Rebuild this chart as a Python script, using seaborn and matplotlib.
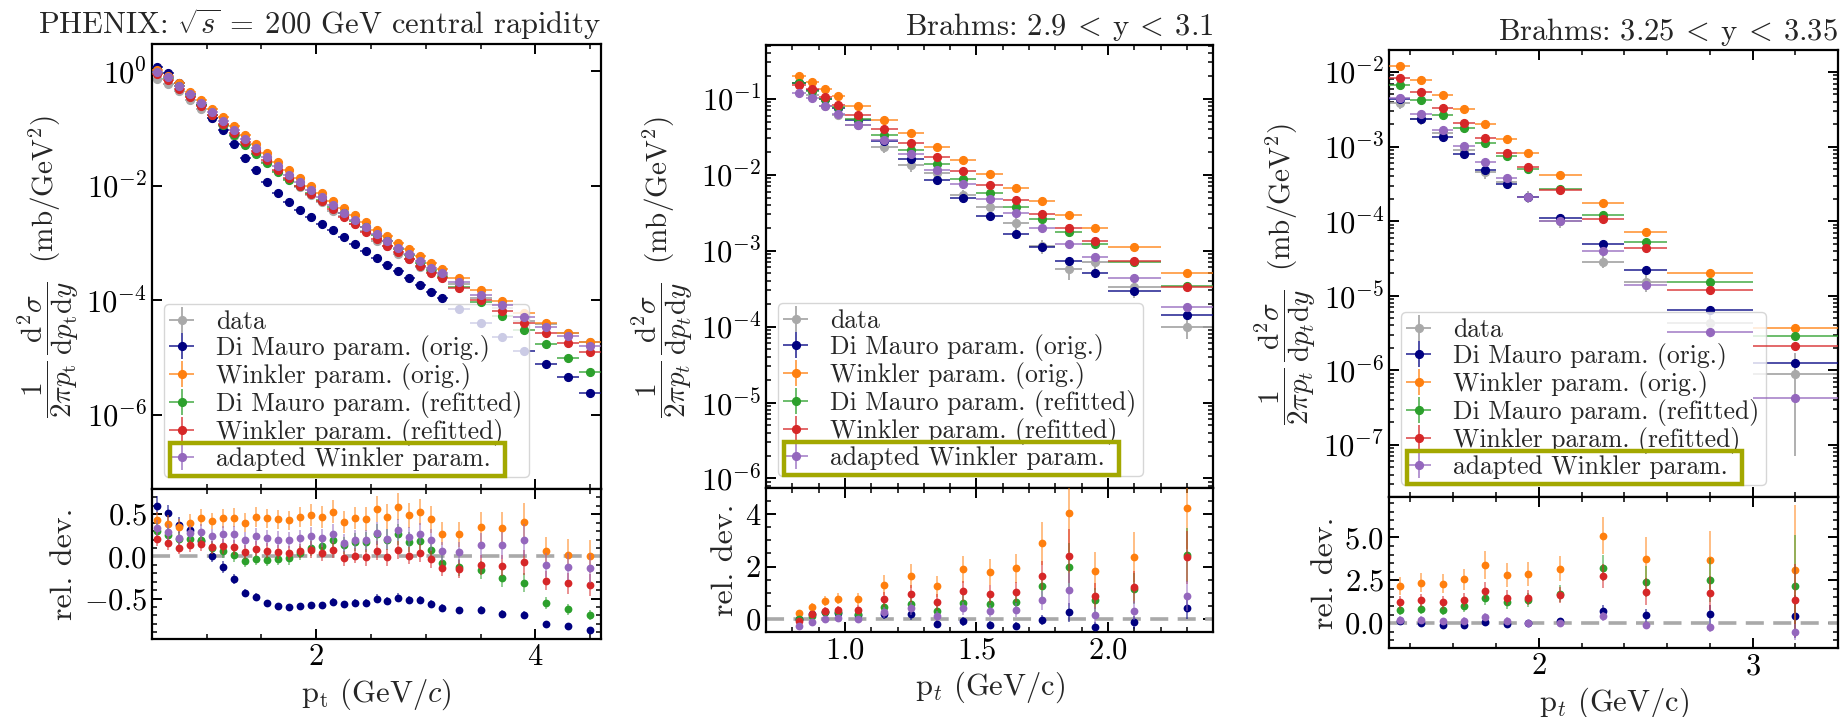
import numpy as np
import matplotlib
matplotlib.use("Agg")
import matplotlib.pyplot as plt
import seaborn as sns
from matplotlib.ticker import MultipleLocator, LogLocator, NullLocator, NullFormatter
from matplotlib.patches import Rectangle

# ------------------------------------------------------------------ data
series_labels = ["data", "Di Mauro param. (orig.)", "Winkler param. (orig.)",
                 "Di Mauro param. (refitted)", "Winkler param. (refitted)",
                 "adapted Winkler param."]

# PHENIX, sqrt(s)=200 GeV, central rapidity
phx_pt = [0.55, 0.65, 0.75, 0.85, 0.95, 1.05, 1.15, 1.25, 1.35, 1.45, 1.55, 1.65,
          1.75, 1.85, 1.95, 2.05, 2.15, 2.25, 2.35, 2.45, 2.55, 2.65, 2.75, 2.85,
          2.95, 3.05, 3.15, 3.3, 3.5, 3.7, 3.9, 4.1, 4.3, 4.5]
phx_halfwidth = [0.05] * 27 + [0.1] * 7
phx_data = [0.730, 0.608, 0.455, 0.312, 0.217, 0.156, 0.109, 0.0753, 0.0547, 0.0368,
            0.0260, 0.0182, 0.0131, 0.00940, 0.00681, 0.00514, 0.00362, 0.00293,
            0.00212, 0.00161, 0.00111, 0.000902, 0.000638, 0.000521, 0.000387,
            0.000315, 0.000281, 0.000197, 0.000112, 7.26e-5, 4.33e-5, 3.85e-5,
            2.67e-5, 1.87e-5]
phx_relerr = [0.07, 0.07, 0.07, 0.07, 0.07, 0.07, 0.08, 0.08, 0.08, 0.08, 0.08, 0.08,
              0.08, 0.08, 0.09, 0.09, 0.09, 0.09, 0.09, 0.10, 0.10, 0.10, 0.10, 0.10,
              0.10, 0.11, 0.11, 0.12, 0.13, 0.14, 0.16, 0.16, 0.18, 0.20]
phx_dm_orig = [0.60, 0.51, 0.37, 0.31, 0.18, 0.0, -0.13, -0.27, -0.43, -0.48, -0.55,
               -0.59, -0.60, -0.59, -0.58, -0.58, -0.54, -0.57, -0.55, -0.55, -0.50,
               -0.53, -0.49, -0.52, -0.52, -0.56, -0.61, -0.64, -0.64, -0.68, -0.70,
               -0.80, -0.83, -0.87]
phx_w_orig = [0.43, 0.39, 0.35, 0.40, 0.46, 0.42, 0.45, 0.46, 0.40, 0.47, 0.45, 0.44,
              0.43, 0.47, 0.49, 0.47, 0.53, 0.41, 0.45, 0.44, 0.56, 0.47, 0.59, 0.49,
              0.53, 0.44, 0.27, 0.26, 0.35, 0.34, 0.41, 0.06, 0.02, 0.0]
phx_dm_ref = [0.30, 0.25, 0.21, 0.21, 0.20, 0.10, 0.07, 0.02, -0.05, -0.03, -0.04,
              -0.03, -0.02, 0.04, 0.10, 0.12, 0.19, 0.13, 0.17, 0.17, 0.26, 0.20, 0.26,
              0.17, 0.18, 0.08, -0.08, -0.13, -0.16, -0.26, -0.31, -0.55, -0.63, -0.70]
phx_w_ref = [0.21, 0.16, 0.10, 0.13, 0.15, 0.11, 0.12, 0.11, 0.05, 0.09, 0.07, 0.05,
             0.04, 0.06, 0.08, 0.04, 0.08, -0.02, 0.01, -0.01, 0.07, -0.01, 0.08, 0.01,
             0.04, -0.03, -0.14, -0.15, -0.10, -0.11, -0.07, -0.29, -0.32, -0.34]
phx_aw = [0.34, 0.29, 0.22, 0.28, 0.29, 0.24, 0.26, 0.26, 0.19, 0.24, 0.22, 0.20,
          0.19, 0.22, 0.24, 0.22, 0.27, 0.16, 0.20, 0.19, 0.28, 0.21, 0.31, 0.23,
          0.27, 0.19, 0.06, 0.05, 0.13, 0.13, 0.19, -0.10, -0.12, -0.14]

# BRAHMS 2.9 < y < 3.1
br1_pt = [0.825, 0.875, 0.925, 0.975, 1.05, 1.15, 1.25, 1.35, 1.45, 1.55, 1.65, 1.75,
          1.85, 1.95, 2.1, 2.3]
br1_halfwidth = [0.025] * 4 + [0.05] * 10 + [0.1] * 2
br1_data = [0.162, 0.112, 0.080, 0.061, 0.0454, 0.0231, 0.0134, 0.0104, 0.0054,
            0.0037, 0.0023, 0.00115, 0.00058, 0.00071, 0.00033, 9.8e-5]
br1_relerr = [0.08, 0.10, 0.12, 0.12, 0.13, 0.17, 0.18, 0.18, 0.18, 0.18, 0.19, 0.21,
              0.30, 0.26, 0.28, 0.30]
br1_dm_orig = [-0.02, 0.18, 0.25, 0.22, 0.15, 0.20, 0.19, -0.19, -0.09, -0.22, -0.27,
               -0.04, 0.25, -0.29, -0.12, 0.43]
br1_w_orig = [0.21, 0.47, 0.68, 0.78, 0.77, 1.30, 1.64, 1.24, 1.89, 1.78, 1.93, 2.89,
              4.06, 1.83, 2.36, 4.22]
br1_dm_ref = [0.0, 0.12, 0.25, 0.27, 0.18, 0.46, 0.58, 0.31, 0.62, 0.56, 0.65, 1.24,
              1.99, 0.72, 1.16, 2.45]
br1_w_ref = [-0.06, 0.19, 0.31, 0.35, 0.35, 0.75, 0.95, 0.65, 1.06, 0.96, 1.02, 1.65,
             2.40, 0.89, 1.22, 2.36]
br1_aw = [-0.27, -0.10, 0.0, 0.04, 0.0, 0.25, 0.40, 0.12, 0.41, 0.31, 0.34, 0.71,
          1.12, 0.15, 0.31, 0.87]

# BRAHMS 3.25 < y < 3.35
br2_pt = [1.35, 1.45, 1.55, 1.65, 1.75, 1.85, 1.95, 2.1, 2.3, 2.5, 2.8, 3.2]
br2_halfwidth = [0.05] * 7 + [0.1] * 3 + [0.2] * 2
br2_data = [3.79e-3, 2.33e-3, 1.50e-3, 8.9e-4, 4.54e-4, 3.33e-4, 2.12e-4, 1.0e-4,
            2.86e-5, 1.53e-5, 4.3e-6, 9.0e-7]
br2_relerr = [0.17, 0.17, 0.17, 0.17, 0.18, 0.18, 0.18, 0.18, 0.18, 0.27, 0.36, 0.92]
br2_dm_orig = [0.15, 0.0, -0.10, -0.10, 0.06, -0.06, 0.0, 0.10, 0.72, 0.45, 0.52, 0.39]
br2_w_orig = [2.17, 2.36, 2.29, 2.56, 3.39, 2.81, 2.85, 3.18, 5.10, 3.74, 3.68, 3.10]
br2_dm_ref = [0.78, 0.83, 0.78, 0.97, 1.49, 1.22, 1.36, 1.71, 3.20, 2.42, 2.52, 2.19]
br2_w_ref = [1.22, 1.32, 1.22, 1.36, 1.90, 1.49, 1.49, 1.65, 2.75, 1.84, 1.74, 1.32]
br2_aw = [0.19, 0.19, 0.10, 0.15, 0.35, 0.14, 0.0, 0.0, 0.39, -0.10, -0.25, -0.52]

titles = [r"PHENIX: $\sqrt{s}\:=\:200$ GeV central rapidity",
          r"Brahms: $2.9\:<\:\mathrm{y}\:<\:3.1$",
          r"Brahms: $3.25\:<\:\mathrm{y}\:<\:3.35$"]

# ------------------------------------------------------------------ style
sns.set_theme(style="ticks")
plt.rcParams.update({
    "font.family": ["cmr10"],
    "mathtext.fontset": "cm",
    "axes.formatter.use_mathtext": True,
    "axes.unicode_minus": True,
    "axes.linewidth": 1.6,
    "axes.edgecolor": "black",
    "xtick.direction": "in", "ytick.direction": "in",
    "xtick.top": True, "ytick.right": True,
    "xtick.major.size": 7, "ytick.major.size": 7,
    "xtick.minor.size": 3.5, "ytick.minor.size": 3.5,
    "xtick.major.width": 1.4, "ytick.major.width": 1.4,
    "xtick.minor.width": 1.1, "ytick.minor.width": 1.1,
    "xtick.labelsize": 22, "ytick.labelsize": 22,
    "xtick.color": "black", "ytick.color": "black",
})

pal = sns.color_palette("tab10")
data_color = "darkgray"
model_colors = ["navy", pal[1], pal[2], pal[3], pal[4]]
box_color = "#a3a800"

fig = plt.figure(figsize=(18.42, 7.17), dpi=100)

rects = [
    ([0.0825, 0.318, 0.2438, 0.6206], [0.0825, 0.1088, 0.2438, 0.2092]),
    ([0.4159, 0.3194, 0.2427, 0.6179], [0.4159, 0.1185, 0.2427, 0.2009]),
    ([0.7541, 0.3068, 0.2438, 0.6234], [0.7541, 0.0962, 0.2438, 0.2106]),
]

ylab_t = r"$\dfrac{1}{2\pi p_\mathrm{t}}\,\dfrac{\mathrm{d}^2\sigma}{\mathrm{d}p_\mathrm{t}\mathrm{d}y}\ \ (\mathrm{mb}/\mathrm{GeV}^2)$"
ylab_i = r"$\dfrac{1}{2\pi p_t}\,\dfrac{\mathrm{d}^2\sigma}{\mathrm{d}p_t\mathrm{d}y}\ \ (\mathrm{mb}/\mathrm{GeV}^2)$"

panels = [
    dict(pt=phx_pt, hw=phx_halfwidth, data=phx_data, relerr=phx_relerr,
         rels=[phx_dm_orig, phx_w_orig, phx_dm_ref, phx_w_ref, phx_aw],
         xlim=(0.5, 4.6), ylim=(5.1e-8, 3.0), rlim=(-0.98, 0.8),
         xmaj=2, xmin=0.5, rmaj=0.5, rmin=0.1,
         xlabel=r"p$_\mathrm{t}$ (GeV/$c$)", ylabel=ylab_t),
    dict(pt=br1_pt, hw=br1_halfwidth, data=br1_data, relerr=br1_relerr,
         rels=[br1_dm_orig, br1_w_orig, br1_dm_ref, br1_w_ref, br1_aw],
         xlim=(0.7, 2.4), ylim=(7.5e-7, 0.51), rlim=(-0.5, 5.0),
         xmaj=0.5, xmin=0.1, rmaj=2, rmin=0.5,
         xlabel=r"p$_t$ (GeV/c)", ylabel=ylab_i),
    dict(pt=br2_pt, hw=br2_halfwidth, data=br2_data, relerr=br2_relerr,
         rels=[br2_dm_orig, br2_w_orig, br2_dm_ref, br2_w_ref, br2_aw],
         xlim=(1.3, 3.4), ylim=(2.0e-8, 1.97e-2), rlim=(-1.45, 7.35),
         xmaj=1, xmin=0.2, rmaj=2.5, rmin=0.5,
         xlabel=r"p$_t$ (GeV/c)", ylabel=ylab_i),
]

MS = 5.6
legends = []
for k, (p, (rm, rr)) in enumerate(zip(panels, rects)):
    ax = fig.add_axes(rm)
    rax = fig.add_axes(rr, sharex=ax)
    pt = np.asarray(p["pt"])
    hw = np.asarray(p["hw"])
    data = np.asarray(p["data"])
    relerr = np.asarray(p["relerr"])

    ax.errorbar(pt, data, xerr=hw, yerr=data * relerr, fmt="o", ms=MS,
                color=data_color, ecolor=data_color, elinewidth=1.3, capsize=0,
                label=series_labels[0], zorder=2)
    for i, (rel, c) in enumerate(zip(p["rels"], model_colors)):
        rel = np.asarray(rel)
        model = data * (1.0 + rel)
        e = ax.errorbar(pt, model, xerr=hw, yerr=np.zeros_like(model), fmt="o",
                        ms=MS, color=c, ecolor=c, elinewidth=1.3, capsize=0,
                        label=series_labels[i + 1], zorder=3 + i)
        for lc in e[2]:
            lc.set_alpha(0.75)
        r = rax.errorbar(pt, rel, yerr=(1.0 + rel) * relerr, fmt="none", ecolor=c,
                         elinewidth=1.3, capsize=0, zorder=3 + i)
        for lc in r[2]:
            lc.set_alpha(0.55)
        sns.scatterplot(x=pt, y=rel, ax=rax, color=c, s=MS ** 2, linewidth=0,
                        legend=False, zorder=3.5 + i)
    rax.axhline(0.0, color="darkgray", lw=2.6, ls=(0, (5, 2.6)), zorder=1)

    ax.set_yscale("log")
    ax.set_xlim(*p["xlim"])
    ax.set_ylim(*p["ylim"])
    rax.set_ylim(*p["rlim"])
    if k == 0:
        ax.set_yticks([1e0, 1e-2, 1e-4, 1e-6])
        ax.yaxis.set_minor_locator(NullLocator())
    else:
        ax.yaxis.set_major_locator(LogLocator(base=10, numticks=20))
        ax.yaxis.set_minor_locator(LogLocator(base=10, subs=np.arange(2, 10), numticks=20))
        ax.yaxis.set_minor_formatter(NullFormatter())
    ax.xaxis.set_major_locator(MultipleLocator(p["xmaj"]))
    ax.xaxis.set_minor_locator(MultipleLocator(p["xmin"]))
    rax.yaxis.set_major_locator(MultipleLocator(p["rmaj"]))
    rax.yaxis.set_minor_locator(MultipleLocator(p["rmin"]))
    for a in (ax, rax):
        a.tick_params(which="both", direction="in", top=True, right=True)
        for s in a.spines.values():
            s.set_linewidth(1.6)
            s.set_color("black")
    ax.tick_params(labelbottom=False)

    ax.set_title(titles[k], loc="right", fontsize=22, pad=7)
    ax.set_ylabel(p["ylabel"], fontsize=21, labelpad=4)
    rax.set_ylabel("rel. dev.", fontsize=23)
    rax.set_xlabel(p["xlabel"], fontsize=22)

    leg = ax.legend(loc="lower left", fontsize=18.5, handlelength=0.9,
                    handletextpad=0.9, labelspacing=0.04, borderpad=0.25,
                    borderaxespad=0.45, framealpha=0.8, edgecolor="0.8",
                    fancybox=True)
    legends.append(leg)

# highlight box around the last legend entry
fig.canvas.draw()
renderer = fig.canvas.get_renderer()
W, H = fig.bbox.width, fig.bbox.height
for leg in legends:
    lb = leg.get_window_extent(renderer)
    tb = leg.get_texts()[-1].get_window_extent(renderer)
    x0 = lb.x0 + 6
    x1 = tb.x1 + 14
    yc = 0.5 * (tb.y0 + tb.y1)
    h = 33
    rect = Rectangle((x0 / W, (yc - h / 2) / H), (x1 - x0) / W, h / H,
                     transform=fig.transFigure, fill=False, edgecolor=box_color,
                     linewidth=3.2, zorder=20)
    fig.add_artist(rect)

fig.savefig("out.png", dpi=100)
